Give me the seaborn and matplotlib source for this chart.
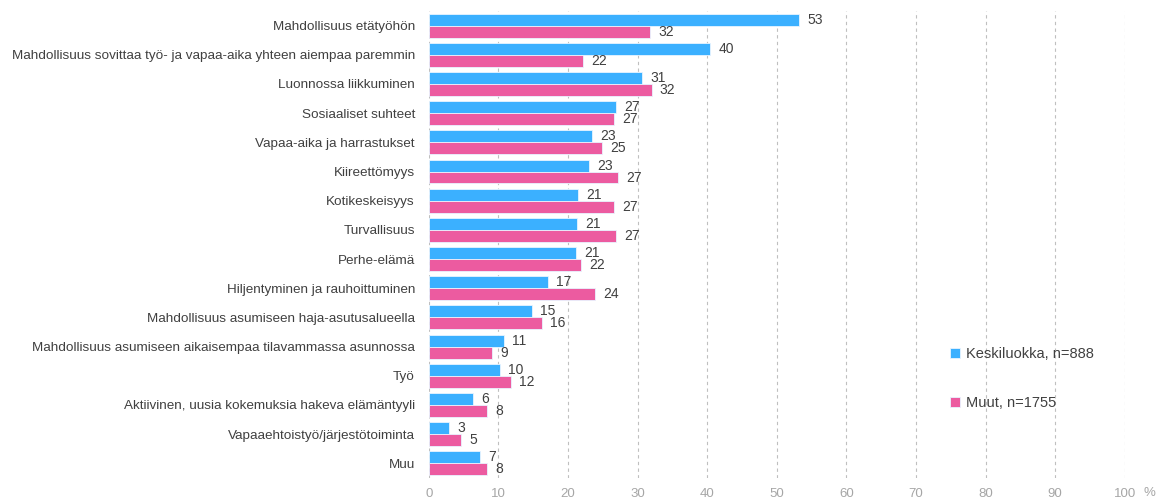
import seaborn as sns
import matplotlib.pyplot as plt
import pandas as pd

categories = [
    "Mahdollisuus etätyöhön",
    "Mahdollisuus sovittaa työ- ja vapaa-aika yhteen aiempaa paremmin",
    "Luonnossa liikkuminen",
    "Sosiaaliset suhteet",
    "Vapaa-aika ja harrastukset",
    "Kiireettömyys",
    "Kotikeskeisyys",
    "Turvallisuus",
    "Perhe-elämä",
    "Hiljentyminen ja rauhoittuminen",
    "Mahdollisuus asumiseen haja-asutusalueella",
    "Mahdollisuus asumiseen aikaisempaa tilavammassa asunnossa",
    "Työ",
    "Aktiivinen, uusia kokemuksia hakeva elämäntyyli",
    "Vapaaehtoistyö/järjestötoiminta",
    "Muu",
]
keskiluokka = [53.2, 40.4, 30.6, 26.9, 23.4, 23.0, 21.4, 21.3, 21.1, 17.1, 14.8, 10.8, 10.2, 6.4, 2.9, 7.3]
muut = [31.8, 22.1, 32.0, 26.6, 24.9, 27.2, 26.6, 26.9, 21.8, 23.9, 16.2, 9.1, 11.8, 8.4, 4.6, 8.4]
series_names = ["Keskiluokka, n=888", "Muut, n=1755"]
x_ticks = [0, 10, 20, 30, 40, 50, 60, 70, 80, 90, 100]

df = pd.concat([
    pd.DataFrame({"kategoria": categories, "arvo": keskiluokka, "ryhma": series_names[0]}),
    pd.DataFrame({"kategoria": categories, "arvo": muut, "ryhma": series_names[1]}),
])

sns.set_style("white")
plt.rcParams["font.family"] = ["Liberation Sans", "DejaVu Sans"]

fig = plt.figure(figsize=(11.62, 5.01), dpi=100)
ax = fig.add_axes([0.369, 0.046, 0.599, 0.932])

sns.barplot(
    data=df, y="kategoria", x="arvo", hue="ryhma", orient="h",
    palette=["#3BB0FF", "#EC5BA0"], width=0.82, saturation=1,
    edgecolor="#E8F4FF", linewidth=0.6, ax=ax,
)

for cont in ax.containers:
    ax.bar_label(cont, fmt="%.0f", padding=6, fontsize=10, color="#404040")

ax.set_xlim(0, 100)
ax.set_xticks(x_ticks)
ax.set_xticklabels([str(t) for t in x_ticks], color="#A6A6A6", fontsize=9.5)
ax.tick_params(axis="x", length=0, pad=7)
ax.tick_params(axis="y", length=0, pad=10, labelsize=9.7, labelcolor="#404040")
ax.set_xlabel("")
ax.set_ylabel("")
for s in ax.spines.values():
    s.set_visible(False)
for t in x_ticks:
    ax.axvline(t, color="#BFBFBF", linestyle=(0, (3, 3)), linewidth=0.8, zorder=0)
ax.text(1.036, -0.032, "%", transform=ax.transAxes, color="#A6A6A6", fontsize=9.5,
        ha="center", va="center")

ax.legend(loc="center left", bbox_to_anchor=(0.806, 0.244), bbox_transform=fig.transFigure,
          frameon=False, fontsize=10.5, handlelength=0.7, handleheight=0.7,
          handletextpad=0.4, labelspacing=2.4, labelcolor="#404040")

fig.savefig("out.png", dpi=100)
